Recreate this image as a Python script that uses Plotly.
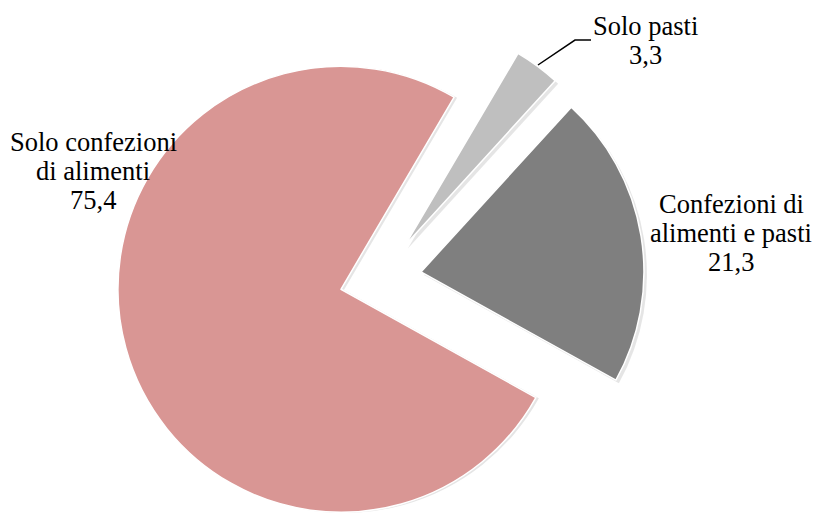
import numpy as np
import plotly.graph_objects as go

labels = ["Solo pasti", "Confezioni di alimenti e pasti", "Solo confezioni di alimenti"]
label_lines = [["Solo pasti"], ["Confezioni di", "alimenti e pasti"], ["Solo confezioni", "di alimenti"]]
values = [3.3, 21.3, 75.4]
colors = ["#BFBFBF", "#7F7F7F", "#D99694"]

W, H = 815, 513
cx, cy = 380.5, 278.5   # pie centre before explosion (px)
R = 223                 # radius (px)
explode = 41            # every slice pushed out this much (px)
rotation = 30.5         # first slice starts here, clockwise from 12 o'clock
shadow = 3              # soft drop shadow offset (px)

# label blocks: centre x, centre y of first line (px)
label_pos = [(645, 26), (731, 204), (93, 142)]
line_gap = 29


def paper(x, y):
    return x / W, 1 - y / H


def slice_trace(i, ox, oy, fill, line_w):
    return go.Pie(
        labels=labels,
        values=values,
        sort=False,
        direction="clockwise",
        rotation=rotation,
        marker=dict(
            colors=[fill if j == i else "rgba(0,0,0,0)" for j in range(len(values))],
            line=dict(color="white", width=[line_w if j == i else 0 for j in range(len(values))]),
        ),
        textinfo="none",
        hoverinfo="skip" if line_w == 0 else "label+value",
        showlegend=False,
        domain=dict(x=[(ox - R) / W, (ox + R) / W], y=[1 - (oy + R) / H, 1 - (oy - R) / H]),
    )


fig = go.Figure()
total = sum(values)
start = rotation
centres = []
for v in values:
    # each slice gets its own trace so it can be pushed out without shrinking the pie
    mid = np.radians(start + v / total * 180)
    start += v / total * 360
    centres.append((cx + explode * np.sin(mid), cy - explode * np.cos(mid)))

for i, (ox, oy) in enumerate(centres):
    fig.add_trace(slice_trace(i, min(ox + shadow, W - R), min(oy + shadow, H - R), "rgba(0,0,0,0.10)", 0))
for i, (ox, oy) in enumerate(centres):
    fig.add_trace(slice_trace(i, ox, oy, colors[i], 1.5))

annotations = []
for lines, v, (lx, ly) in zip(label_lines, values, label_pos):
    rows = lines + [f"{v:.1f}".replace(".", ",")]
    for k, row in enumerate(rows):
        x, y = paper(lx, ly + k * line_gap)
        annotations.append(dict(
            x=x, y=y, xref="paper", yref="paper", text=row, showarrow=False,
            xanchor="center", yanchor="middle",
        ))

# leader line for "Solo pasti"
pts = [paper(538, 65), paper(575, 40), paper(591, 40)]
path = "M " + " L ".join(f"{x:.4f},{y:.4f}" for x, y in pts)

fig.update_layout(
    width=W,
    height=H,
    margin=dict(l=0, r=0, t=0, b=0),
    paper_bgcolor="white",
    plot_bgcolor="white",
    font=dict(family="Times New Roman, Liberation Serif, serif", size=26.5, color="black"),
    annotations=annotations,
    shapes=[dict(type="path", path=path, xref="paper", yref="paper",
                 line=dict(color="black", width=1.5))],
)

fig.write_html("out.html", config={"displayModeBar": False},
               post_script="document.body.style.margin = '0';")
